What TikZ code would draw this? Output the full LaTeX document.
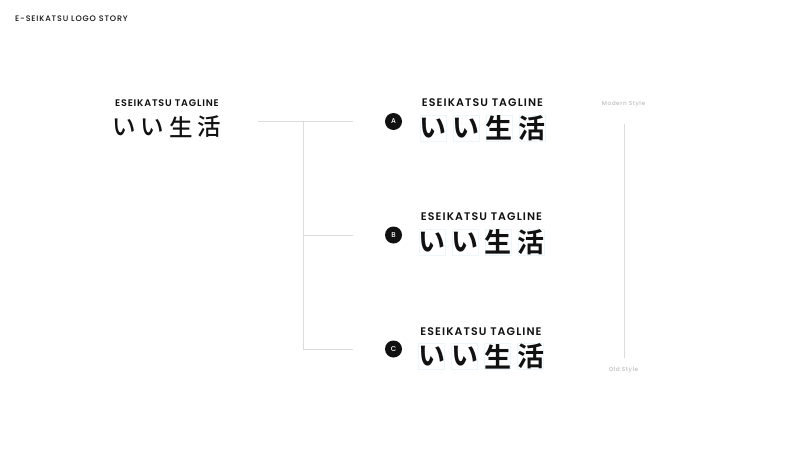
\documentclass[tikz,border=0pt]{standalone}
\usepackage{fontspec}
\setmainfont{Poppins Medium}
\newfontfamily\semi{Poppins SemiBold}
\newfontfamily\cjk{Noto Sans CJK JP Bold}
\newfontfamily\cjkmed{Noto Sans CJK JP Medium}
\definecolor{ink}{HTML}{111111}
\definecolor{rule}{HTML}{DCDCDC}
\definecolor{tint}{HTML}{EDF7FA}
\definecolor{faint}{HTML}{BEBEBE}
\tikzset{
  x=1pt,y=-1pt,
  wire/.style={draw=rule,line width=0.8pt},
  titletext/.style={inner sep=0pt,anchor=west,text=ink,font=\fontsize{8}{9}\selectfont\addfontfeature{LetterSpace=10.5}},
  tagtext/.style={inner sep=0pt,text=ink,font=\semi\fontsize{11}{12}\selectfont\addfontfeature{LetterSpace=10}},
  maintagtext/.style={inner sep=0pt,text=ink,font=\semi\fontsize{9.6}{12}\selectfont\addfontfeature{LetterSpace=8.5}},
  stylelabel/.style={inner sep=0pt,text=faint,font=\fontsize{5.8}{7}\selectfont\addfontfeature{LetterSpace=9}},
  badge/.style={circle,fill=ink,text=white,minimum size=17pt,inner sep=0pt,font=\fontsize{7}{8}\selectfont},
  glyph/.style={inner sep=0pt,text=ink,font=\cjk\fontsize{27}{28}\selectfont},
  mainglyph/.style={inner sep=0pt,text=ink,font=\cjkmed\fontsize{23.5}{24}\selectfont},
  cell/.style={fill=white,draw=tint,line width=0.8pt,minimum width=26pt,minimum height=26pt,inner sep=0pt},
}
\newcommand{\logorow}[3]{%
  \node[tagtext] (tag#1) at (#2+62.5,#3-25) {ESEIKATSU TAGLINE};
  \node[cell] (cella#1) at (#2+13,#3) {};
  \node[cell] (cellb#1) at (#2+46,#3) {};
  \node[cell] (cellc#1) at (#2+79,#3) {};
  \node[cell] (celld#1) at (#2+112,#3) {};
  \node[glyph] at (cella#1) {い};
  \node[glyph] at (cellb#1) {い};
  \node[glyph] at (cellc#1) {生};
  \node[glyph] at (celld#1) {活};
}
\begin{document}
\begin{tikzpicture}
\useasboundingbox[fill=white] (0,0) rectangle (800,450);
\node[titletext] (title) at (15,18.5) {E-SEIKATSU LOGO STORY};

\node[maintagtext] (maintag) at (167,103) {ESEIKATSU TAGLINE};
\node[mainglyph] (m1) at (124.5,127) {い};
\node[mainglyph] (m2) at (152.5,127) {い};
\node[mainglyph] (m3) at (181,127) {生};
\node[mainglyph] (m4) at (209,127) {活};

\logorow{A}{420}{128}
\logorow{B}{419}{242}
\logorow{C}{418.5}{356.5}

\node[badge] (a) at (393.5,121.5) {A};
\node[badge] (b) at (393.5,235) {B};
\node[badge] (c) at (393.5,349) {C};

\coordinate (s) at (258,121.5);
\coordinate (j1) at (303.5,121.5);
\coordinate (j2) at (303.5,235.5);
\coordinate (j3) at (303.5,349);
\coordinate (ea) at (352.5,121.5);
\coordinate (eb) at (352.5,235.5);
\coordinate (ec) at (352.5,349);
\draw[wire] (s) -- (ea);
\draw[wire] (j1) -- (j3) -- (ec);
\draw[wire] (j2) -- (eb);

\node[stylelabel] (modern) at (623.5,104.5) {Modern Style};
\node[stylelabel] (old) at (623.5,370) {Old Style};
\coordinate (t1) at (624,124);
\coordinate (t2) at (624,358);
\draw[wire] (t1) -- (t2);
\end{tikzpicture}
\end{document}
